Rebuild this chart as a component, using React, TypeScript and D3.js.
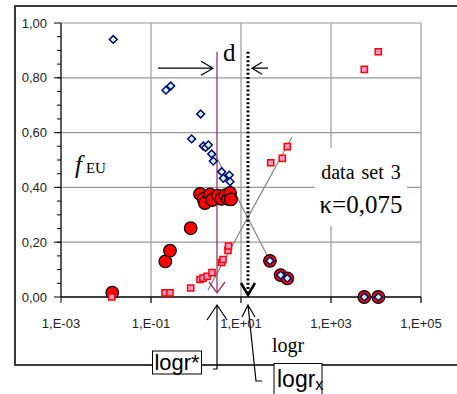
import { useEffect, useRef } from 'react';
import * as d3 from 'd3';

const X_TICKS = [1e-3, 1e-1, 1e1, 1e3, 1e5];
const X_TICK_LABELS = ['1,E-03', '1,E-01', '1,E+01', '1,E+03', '1,E+05'];
const Y_TICKS = [0, 0.2, 0.4, 0.6, 0.8, 1];
const Y_TICK_LABELS = ['0,00', '0,20', '0,40', '0,60', '0,80', '1,00'];

// data set 3, [r, f_EU]
const diamonds: [number, number][] = [
  [0.0145, 0.94], [0.215, 0.755], [0.274, 0.77], [0.8, 0.577], [1.27, 0.668],
  [1.45, 0.551], [1.64, 0.546], [1.88, 0.555], [2.23, 0.522], [2.42, 0.496],
  [3.72, 0.457], [5.5, 0.445], [4.04, 0.433], [5.7, 0.421],
  [44, 0.132], [76, 0.08], [107, 0.068], [5500, 0], [11250, 0],
];
const circles: [number, number][] = [
  [0.0138, 0.016], [0.208, 0.13], [0.264, 0.169], [0.762, 0.251], [1.23, 0.376],
  [1.47, 0.358], [1.58, 0.343], [2.05, 0.374], [2.27, 0.354], [3.08, 0.37],
  [3.69, 0.358], [4.53, 0.372], [5.14, 0.358], [5.7, 0.38], [6.0, 0.356],
  [44, 0.132], [76, 0.08], [107, 0.068], [5500, 0], [11250, 0],
];
const squares: [number, number][] = [
  [0.0134, 0], [0.205, 0.015], [0.264, 0.015], [0.762, 0.033], [1.23, 0.064],
  [1.43, 0.069], [1.76, 0.075], [2.27, 0.089], [3.69, 0.126], [3.98, 0.137],
  [5.14, 0.17], [5.27, 0.186], [45.7, 0.49], [82.8, 0.506], [107, 0.549],
  [5500, 0.831], [11250, 0.895],
];

const trendDown: [number, number][] = [[2.47, 0.53], [39.8, 0.146]];
const trendUp: [number, number][] = [[1.85, 0.026], [136, 0.584]];

const LOGR_STAR = 2.93;
const LOGR_X = 14.3;
const MARKER_TOP = 0.895;
const ARROW_LEVEL = 0.835;

const SERIF = '"Liberation Serif", "Times New Roman", serif';
const SANS = '"Liberation Sans", Arial, sans-serif';

const App = () => {
  const svgRef = useRef<SVGSVGElement>(null);

  useEffect(() => {
    const width = 457;
    const height = 394;
    const svg = d3.select(svgRef.current);
    svg.selectAll('*').remove();
    svg.attr('width', width).attr('height', height);

    const x = d3.scaleLog().domain([1e-3, 1e5]).range([61, 421]);
    const y = d3.scaleLinear().domain([0, 1]).range([297, 23]);
    const [x0, x1] = x.range();
    const y0 = y(0);
    const yTop = y(1);

    // outer frame
    svg.append('rect')
      .attr('x', 15).attr('y', 6).attr('width', 460).attr('height', 359)
      .attr('fill', 'none').attr('stroke', '#3a3a3a').attr('stroke-width', 2);

    const g = svg.append('g');

    // grid
    g.selectAll('.hgrid')
      .data(Y_TICKS.filter(t => t > 0))
      .enter().append('line')
      .attr('x1', x0).attr('x2', x1)
      .attr('y1', d => y(d)).attr('y2', d => y(d))
      .attr('stroke', '#9a9a9a').attr('stroke-width', 1.2);
    g.selectAll('.vgrid')
      .data(X_TICKS.slice(1))
      .enter().append('line')
      .attr('x1', d => x(d)).attr('x2', d => x(d))
      .attr('y1', yTop).attr('y2', y0 + 6)
      .attr('stroke', '#9a9a9a').attr('stroke-width', 1.2);

    // label box background
    g.append('rect')
      .attr('x', 315).attr('y', 148).attr('width', 92).attr('height', 78)
      .attr('fill', '#fff');

    // axes
    g.append('line')
      .attr('x1', x0).attr('x2', x0).attr('y1', yTop).attr('y2', y0)
      .attr('stroke', '#000').attr('stroke-width', 1.3);
    g.append('line')
      .attr('x1', x0).attr('x2', x1).attr('y1', y0).attr('y2', y0)
      .attr('stroke', '#000').attr('stroke-width', 1.3);

    g.selectAll('.ymajor')
      .data(Y_TICKS)
      .enter().append('line')
      .attr('x1', x0 - 7).attr('x2', x0)
      .attr('y1', d => y(d)).attr('y2', d => y(d))
      .attr('stroke', '#000').attr('stroke-width', 1);
    g.selectAll('.yminor')
      .data(d3.range(0.05, 1, 0.05))
      .enter().append('line')
      .attr('x1', x0 - 4).attr('x2', x0)
      .attr('y1', d => y(d)).attr('y2', d => y(d))
      .attr('stroke', '#000').attr('stroke-width', 1);
    g.selectAll('.xmajor')
      .data(X_TICKS)
      .enter().append('line')
      .attr('x1', d => x(d)).attr('x2', d => x(d))
      .attr('y1', y0).attr('y2', y0 + 6)
      .attr('stroke', '#000').attr('stroke-width', 1);

    g.selectAll('.ylab')
      .data(Y_TICKS)
      .enter().append('text')
      .attr('x', 47).attr('y', d => y(d) + 4.5)
      .attr('text-anchor', 'end')
      .attr('font-family', SANS).attr('font-size', '13px').attr('fill', '#222')
      .text((d, i) => Y_TICK_LABELS[i]);
    g.selectAll('.xlab')
      .data(X_TICKS)
      .enter().append('text')
      .attr('x', d => x(d)).attr('y', 328)
      .attr('text-anchor', 'middle')
      .attr('font-family', SANS).attr('font-size', '13px').attr('fill', '#222')
      .text((d, i) => X_TICK_LABELS[i]);

    // trend lines
    const line = d3.line<[number, number]>().x(d => x(d[0])).y(d => y(d[1]));
    [trendDown, trendUp].forEach(t => {
      g.append('path').attr('d', line(t)).attr('fill', 'none')
        .attr('stroke', '#8c8c8c').attr('stroke-width', 1.3);
    });

    // logr* and logr_x markers
    const xs = x(LOGR_STAR);
    const xx = x(LOGR_X);
    const ym = y(MARKER_TOP);
    g.append('line')
      .attr('x1', xs).attr('x2', xs).attr('y1', ym).attr('y2', y0 - 4)
      .attr('stroke', '#993366').attr('stroke-width', 1.3);
    g.append('path')
      .attr('d', `M${xs - 8},${y0 - 15} L${xs},${y0 - 4} L${xs + 8},${y0 - 15}`)
      .attr('fill', 'none').attr('stroke', '#993366').attr('stroke-width', 1.3);
    g.append('line')
      .attr('x1', xx).attr('x2', xx).attr('y1', ym).attr('y2', y0 - 4)
      .attr('stroke', '#000').attr('stroke-width', 3).attr('stroke-dasharray', '2,2.2');
    g.append('path')
      .attr('d', `M${xx - 7},${y0 - 14} L${xx},${y0 - 2} L${xx + 7},${y0 - 14}`)
      .attr('fill', 'none').attr('stroke', '#000').attr('stroke-width', 2.5);

    // d arrows
    const ya = y(ARROW_LEVEL);
    g.append('path')
      .attr('d', `M${xs - 59},${ya} L${xs - 4},${ya} M${xs - 16},${ya - 7} L${xs - 4},${ya} L${xs - 16},${ya + 7}`)
      .attr('fill', 'none').attr('stroke', '#000').attr('stroke-width', 1.2);
    g.append('path')
      .attr('d', `M${xx + 20},${ya} L${xx + 4},${ya} M${xx + 14},${ya - 6} L${xx + 4},${ya} L${xx + 14},${ya + 6}`)
      .attr('fill', 'none').attr('stroke', '#000').attr('stroke-width', 1.2);
    g.append('text')
      .attr('x', xs + 6).attr('y', 61)
      .attr('font-family', SERIF).attr('font-size', '25px').text('d');

    // points
    g.selectAll('.circ')
      .data(circles)
      .enter().append('circle')
      .attr('cx', d => x(d[0])).attr('cy', d => y(d[1])).attr('r', 6.3)
      .attr('fill', '#ff0000').attr('stroke', '#000').attr('stroke-width', 1.2);
    const sq = d3.symbol().type(d3.symbolSquare).size(38);
    g.selectAll('.sq')
      .data(squares)
      .enter().append('path')
      .attr('d', sq)
      .attr('transform', d => `translate(${x(d[0])},${y(d[1])})`)
      .attr('fill', '#ff99cc').attr('stroke', '#ff0000').attr('stroke-width', 1.5);
    const dm = d3.symbol().type(d3.symbolSquare).size(30);
    g.selectAll('.dm')
      .data(diamonds)
      .enter().append('path')
      .attr('d', dm)
      .attr('transform', d => `translate(${x(d[0])},${y(d[1])}) rotate(45)`)
      .attr('fill', '#ccffcc').attr('stroke', '#000080').attr('stroke-width', 1.5);

    // in-plot labels
    const fl = g.append('text').attr('x', 75).attr('y', 173).attr('font-family', SERIF);
    fl.append('tspan').attr('font-style', 'italic').attr('font-size', '25px').text('f');
    fl.append('tspan').attr('font-size', '15px').attr('dx', 4).text('EU');

    g.append('text')
      .attr('x', 361).attr('y', 179).attr('text-anchor', 'middle')
      .attr('font-family', SERIF).attr('font-size', '20px').attr('word-spacing', '2px')
      .text('data set 3');
    g.append('text')
      .attr('x', 361).attr('y', 213).attr('text-anchor', 'middle')
      .attr('font-family', SERIF).attr('font-size', '25px')
      .text('\u03ba=0,075');

    g.append('text')
      .attr('x', 288).attr('y', 352).attr('text-anchor', 'middle')
      .attr('font-family', SERIF).attr('font-size', '20px')
      .text('logr');

    // bottom callouts
    g.append('path')
      .attr('d', `M${xs - 4},369 L${xs},369 L${xs},${y0 + 8} M${xs - 10},${y0 + 23} L${xs},${y0 + 8} L${xs + 10},${y0 + 23}`)
      .attr('fill', 'none').attr('stroke', '#000').attr('stroke-width', 1.2);
    g.append('path')
      .attr('d', `M${xx + 14},381 L${xx + 8},381 L${xx},${y0 + 8} M${xx - 6},${y0 + 20} L${xx},${y0 + 8} L${xx + 7},${y0 + 20}`)
      .attr('fill', 'none').attr('stroke', '#000').attr('stroke-width', 1.2);

    g.append('rect')
      .attr('x', 152.5).attr('y', 351).attr('width', 49).attr('height', 23)
      .attr('fill', '#fff').attr('stroke', '#000').attr('stroke-width', 1);
    g.append('text')
      .attr('x', 177).attr('y', 370).attr('text-anchor', 'middle')
      .attr('font-family', SANS).attr('font-size', '22px')
      .attr('textLength', 45).attr('lengthAdjust', 'spacingAndGlyphs')
      .text('logr*');

    g.append('rect')
      .attr('x', 274).attr('y', 363.5).attr('width', 48).attr('height', 40)
      .attr('fill', '#fff').attr('stroke', '#000').attr('stroke-width', 1);
    const lx = g.append('text').attr('x', 277).attr('y', 387).attr('font-family', SANS);
    lx.append('tspan').attr('font-size', '23px').text('logr');
    lx.append('tspan').attr('font-size', '16px').attr('dy', 3).text('x');
  }, []);

  return (
    <div style={{ position: 'absolute', left: 0, top: 0 }}>
      <svg ref={svgRef} style={{ display: 'block' }} />
    </div>
  );
};

export default App;
